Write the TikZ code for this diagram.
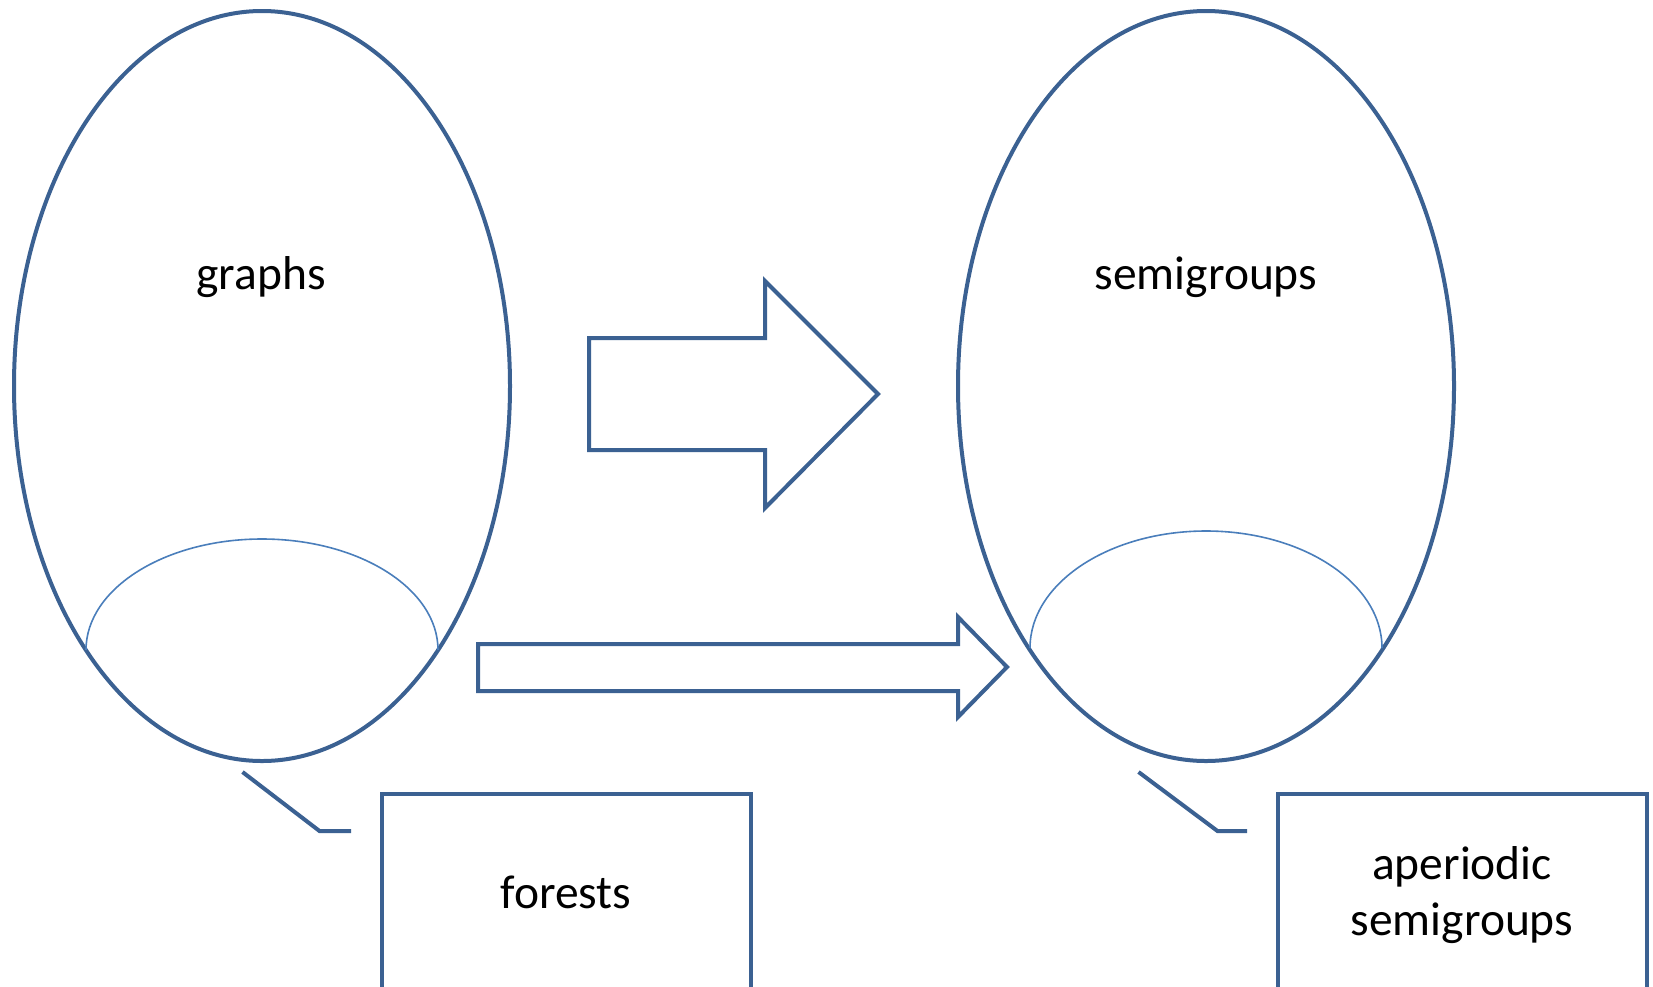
\documentclass[tikz,border=0pt]{standalone}
\usepackage{fontspec}
\setmainfont{Carlito}
\usetikzlibrary{shapes.geometric}
\definecolor{outl}{HTML}{3B6192}
\definecolor{inl}{HTML}{4A7EBB}
\tikzset{
  setell/.style={draw=outl, line width=4pt, ellipse, minimum width=496pt, minimum height=750pt, inner sep=0pt},
  subarc/.style={draw=inl, line width=1.6pt},
  blockarrow/.style={draw=outl, line width=4pt, line join=miter},
  callout/.style={draw=outl, line width=4pt},
  labelbox/.style={draw=outl, line width=4pt, rectangle, inner sep=0pt},
  lbl/.style={font=\fontsize{47.5}{56}\selectfont, align=center, inner sep=0pt}
}
\begin{document}
\begin{tikzpicture}[x=1pt,y=-1pt]
\useasboundingbox (0,0) rectangle (1653,986);
% ellipses
\node[setell] (gr) at (262,386) {};
\node[setell] (sg) at (1206,386) {};
% inner arcs
\draw[subarc] (86,650) arc[start angle=180, end angle=360, x radius=176, y radius=111];
\draw[subarc] (1030,648) arc[start angle=180, end angle=360, x radius=176, y radius=117];
% labels
\node[lbl] (tgr) at (261,277) {graphs};
\node[lbl] (tsg) at (1206,277) {semigroups};
% big arrow
\draw[blockarrow] (589,338) -- (765,338) -- (765,281) -- (878,394) -- (765,508) -- (765,450) -- (589,450) -- cycle;
% lower arrow
\draw[blockarrow] (478,644) -- (958,644) -- (958,617) -- (1007,667) -- (958,717) -- (958,691) -- (478,691) -- cycle;
% boxes
\draw[labelbox] (382,794) rectangle (751,990);
\node[lbl] (tfo) at (566,892) {forests};
\draw[labelbox] (1278,794) rectangle (1647,990);
\node[lbl] (tap) at (1462,895) {aperiodic\\semigroups};
% callouts
\coordinate (c1a) at (242.5,772);
\coordinate (c1b) at (319.5,831);
\coordinate (c1c) at (351,831);
\draw[callout] (c1a) -- (c1b) -- (c1c);
\coordinate (c2a) at (1138.5,772);
\coordinate (c2b) at (1217.5,831);
\coordinate (c2c) at (1247,831);
\draw[callout] (c2a) -- (c2b) -- (c2c);
\end{tikzpicture}
\end{document}
